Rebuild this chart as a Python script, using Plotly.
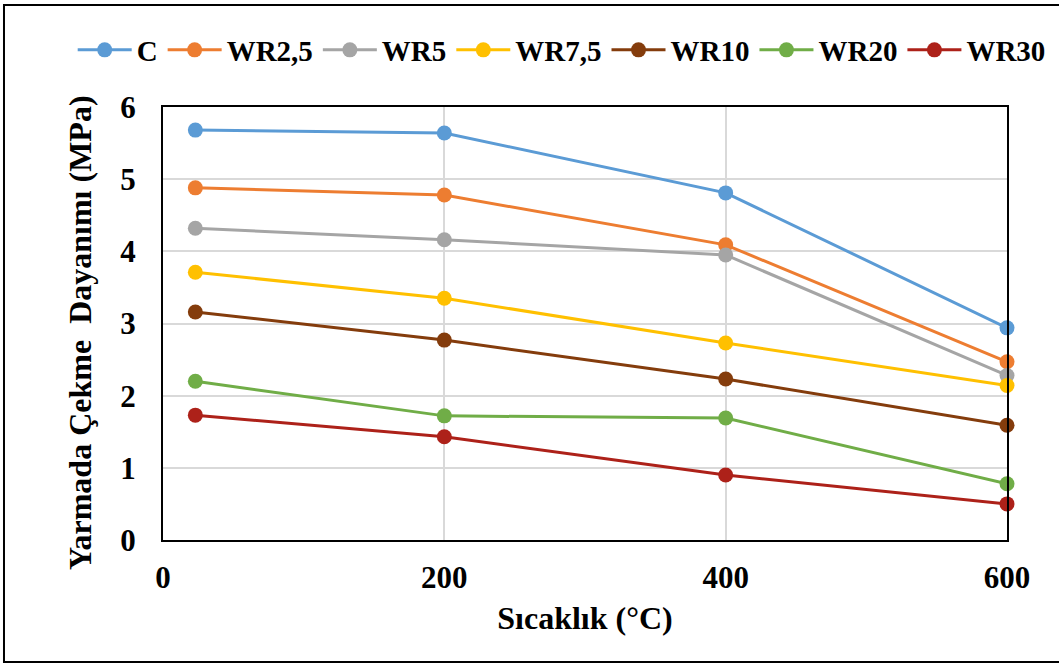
import plotly.graph_objects as go

temps = [23, 200, 400, 600]
series_names = ["C", "WR2,5", "WR5", "WR7,5", "WR10", "WR20", "WR30"]
C = [5.68, 5.64, 4.81, 2.94]
WR2_5 = [4.88, 4.78, 4.09, 2.47]
WR5 = [4.32, 4.16, 3.95, 2.28]
WR7_5 = [3.71, 3.35, 2.73, 2.14]
WR10 = [3.16, 2.77, 2.23, 1.59]
WR20 = [2.20, 1.72, 1.69, 0.78]
WR30 = [1.73, 1.43, 0.90, 0.50]
values = [C, WR2_5, WR5, WR7_5, WR10, WR20, WR30]
colors = ["#5B9BD5", "#ED7D31", "#A5A5A5", "#FFC000", "#843C0C", "#70AD47", "#AD2119"]

y_title = "Yarmada Çekme  Dayanımı (MPa)"
x_title = "Sıcaklık (°C)"

font_family = "Liberation Serif"

fig = go.Figure()
for name, vals, col in zip(series_names, values, colors):
    fig.add_trace(go.Scatter(
        x=temps, y=vals, name=name, mode="lines+markers",
        line=dict(color=col, width=3),
        marker=dict(color=col, size=15),
        cliponaxis=False,
    ))

fig.update_layout(
    width=1059, height=664,
    margin=dict(l=163, r=52, t=107, b=124),
    paper_bgcolor="white", plot_bgcolor="white",
    font=dict(family=font_family, size=28, color="black"),
    showlegend=True,
    legend=dict(orientation="h", x=-0.107, xanchor="left",
                y=1.1316, yanchor="middle",
                font=dict(family=font_family, size=29, color="black", weight="bold"),
                itemwidth=54, tracegroupgap=0, bgcolor="rgba(0,0,0,0)"),
)

fig.update_xaxes(
    range=[0, 600], tickvals=[0, 200, 400, 600],
    showgrid=True, gridcolor="#D9D9D9", gridwidth=1.5,
    showline=True, linecolor="black", linewidth=2, mirror=True,
    zeroline=False,
    ticks="outside", ticklen=9, tickcolor="rgba(0,0,0,0)",
    tickfont=dict(family=font_family, size=31, color="black", weight="bold"),
    title=dict(text=x_title, standoff=12,
               font=dict(family=font_family, size=32, color="black", weight="bold")),
)
fig.update_yaxes(
    range=[0, 6], tickvals=[0, 1, 2, 3, 4, 5, 6],
    showgrid=True, gridcolor="#D9D9D9", gridwidth=1.5,
    showline=True, linecolor="black", linewidth=2, mirror=True,
    zeroline=False,
    ticks="outside", ticklen=19, tickcolor="rgba(0,0,0,0)",
    tickfont=dict(family=font_family, size=31, color="black", weight="bold"),
)

# y-axis title placed like the reference (slightly below centre)
fig.add_annotation(text=y_title, textangle=-90, showarrow=False,
                   xref="paper", yref="paper", x=-0.0983, y=0.478,
                   xanchor="center", yanchor="middle",
                   font=dict(family=font_family, size=32, color="black", weight="bold"))

# outer chart border
fig.add_shape(type="rect", xref="paper", yref="paper",
              x0=-0.1884, x1=1.4, y0=-0.2818, y1=1.2356,
              line=dict(color="black", width=2), fillcolor="rgba(0,0,0,0)", layer="below")

fig.write_html("out.html", config={"displayModeBar": False},
               post_script="document.body.style.margin='0px';")
